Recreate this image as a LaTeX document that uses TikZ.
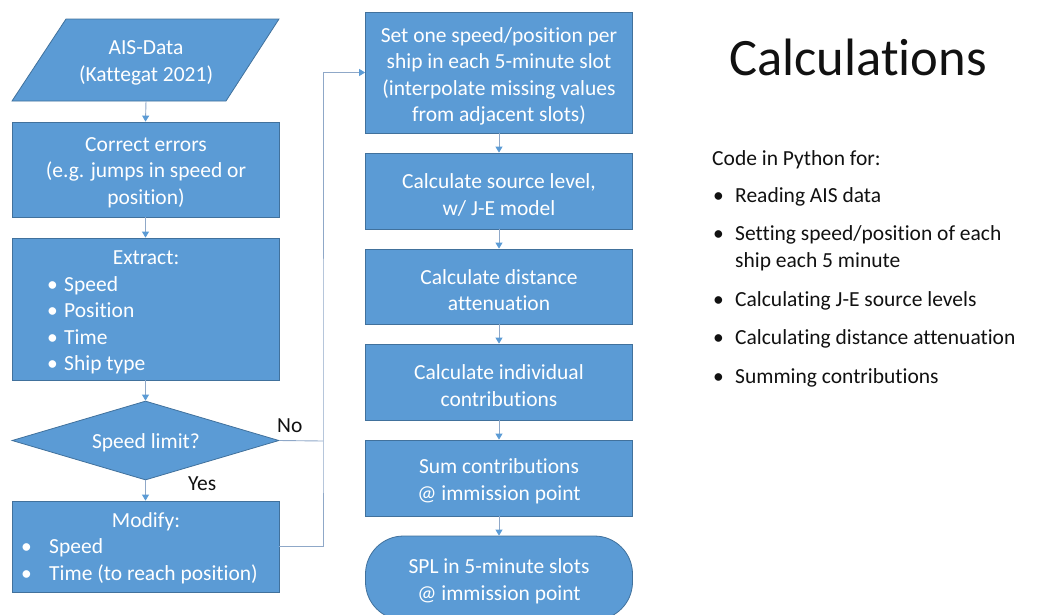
\documentclass[tikz,border=0pt]{standalone}
\usepackage{fontspec}
\setmainfont{Carlito}[Ligatures=NoCommon]
\usetikzlibrary{shapes.geometric,arrows.meta}
\definecolor{boxfill}{HTML}{5B9BD5}
\definecolor{boxline}{HTML}{41719C}
\definecolor{connline}{HTML}{8FA8C8}
\definecolor{txt}{HTML}{111111}
\tikzset{
  every node/.style={font=\fontsize{21.5}{26.5}\selectfont},
  box/.style={draw=boxline, fill=boxfill, inner sep=0pt, line width=0.8pt, minimum width=267pt},
  ct/.style={text=white, align=center, inner sep=0pt},
  wt/.style={text=white, inner sep=0pt, anchor=base west},
  bt/.style={text=txt, inner sep=0pt, anchor=base west},
  conn/.style={draw=connline, line width=0.9pt, -{Triangle[width=7pt,length=6pt,color=boxfill]}},
  plain/.style={draw=connline, line width=0.9pt}
}
\begin{document}
\begin{tikzpicture}[x=1pt,y=-1pt]
\useasboundingbox (0,0) rectangle (1056,614);
% input parallelogram
\draw[draw=boxline, fill=boxfill, line width=0.8pt] (66,19) -- (279,19) -- (226,101) -- (12,101) -- cycle;
\node[ct] (ais) at (146,63) {AIS-Data\\(Kattegat 2021)};
\coordinate (aisb) at (146,101);
% left column
\node[box, minimum height=95pt] (corr) at (145.5,169.5) {};
\node[ct] (corrt) at (146,172.5) {Correct errors\\(e.g. jumps in speed or\\position)};
\node[box, minimum height=142pt] (extr) at (145.5,309) {};
\node[wt, anchor=base] (extrt) at (146,264) {Extract:};
\node[wt] (eb1) at (47,291) {\textbullet};
\node[wt] (e1) at (64,291) {Speed};
\node[wt] (eb2) at (47,317) {\textbullet};
\node[wt] (e2) at (64,317) {Position};
\node[wt] (eb3) at (47,344) {\textbullet};
\node[wt] (e3) at (64,344) {Time};
\node[wt] (eb4) at (47,370) {\textbullet};
\node[wt] (e4) at (64,370) {Ship type};
\node[diamond, draw=boxline, fill=boxfill, inner sep=0pt, line width=0.8pt, minimum width=267pt, minimum height=79pt] (spd) at (145.5,440.5) {};
\node[wt, anchor=base] (spdt) at (146,448) {Speed limit?};
\node[box, minimum height=91pt] (mod) at (145.5,546.5) {};
\node[wt, anchor=base] (modt) at (146,527) {Modify:};
\node[wt] (mb1) at (21,553) {\textbullet};
\node[wt] (m1) at (49,553) {Speed};
\node[wt] (mb2) at (21,580) {\textbullet};
\node[wt] (m2) at (49,580) {Time (to reach position)};
\node[bt] (no) at (277,432) {No};
\node[bt] (yes) at (188,490) {Yes};
% right column
\node[box, minimum height=121pt] (slot) at (499,72.5) {};
\node[ct] (slott) at (499,76.5) {Set one speed/position per\\ship in each 5-minute slot\\(interpolate missing values\\from adjacent slots)};
\node[box, minimum height=76pt] (src) at (499,191) {};
\node[ct] (srct) at (499,195) {Calculate source level,\\w/ J-E model};
\node[box, minimum height=75pt] (dist) at (499,286.5) {};
\node[ct] (distt) at (499,290) {Calculate distance\\attenuation};
\node[box, minimum height=76pt] (ind) at (499,382) {};
\node[ct] (indt) at (499,385.5) {Calculate individual\\contributions};
\node[box, minimum height=76pt] (sum) at (499,478) {};
\node[ct] (sumt) at (499,481.5) {Sum contributions\\@ immission point};
\node[box, minimum height=84pt, rounded corners=38pt] (spl) at (499,578) {};
\node[ct] (splt) at (499,581.5) {SPL in 5-minute slots\\@ immission point};
% connectors
\draw[conn] (aisb) -- (corr.north);
\draw[conn] (corr.south) -- (extr.north);
\draw[conn] (extr.south) -- (spd.north);
\draw[conn] (spd.south) -- (mod.north);
\coordinate (loopx) at (323,441);
\draw[plain] (spd.east) -- (loopx);
\draw[conn] (mod.east) -| (loopx) |- (slot.west);
\draw[conn] (slot.south) -- (src.north);
\draw[conn] (src.south) -- (dist.north);
\draw[conn] (dist.south) -- (ind.north);
\draw[conn] (ind.south) -- (sum.north);
\draw[conn] (sum.south) -- (spl.north);
% right text
\node[text=txt, inner sep=0pt, anchor=base west, font=\fontsize{52.6}{60}\selectfont] (title) at (729,75) {Calculations};
\node[bt] (code) at (712,165) {Code in Python for:};
\node[bt] (rb1) at (713,202) {\textbullet};
\node[bt] (r1) at (735,202) {Reading AIS data};
\node[bt] (rb2) at (713,240) {\textbullet};
\node[bt] (r2) at (735,240) {Setting speed/position of each};
\node[bt] (r2b) at (735,267) {ship each 5 minute};
\node[bt] (rb3) at (713,306) {\textbullet};
\node[bt] (r3) at (735,306) {Calculating J-E source levels};
\node[bt] (rb4) at (713,344) {\textbullet};
\node[bt] (r4) at (735,344) {Calculating distance attenuation};
\node[bt] (rb5) at (713,383) {\textbullet};
\node[bt] (r5) at (735,383) {Summing contributions};
\end{tikzpicture}
\end{document}
